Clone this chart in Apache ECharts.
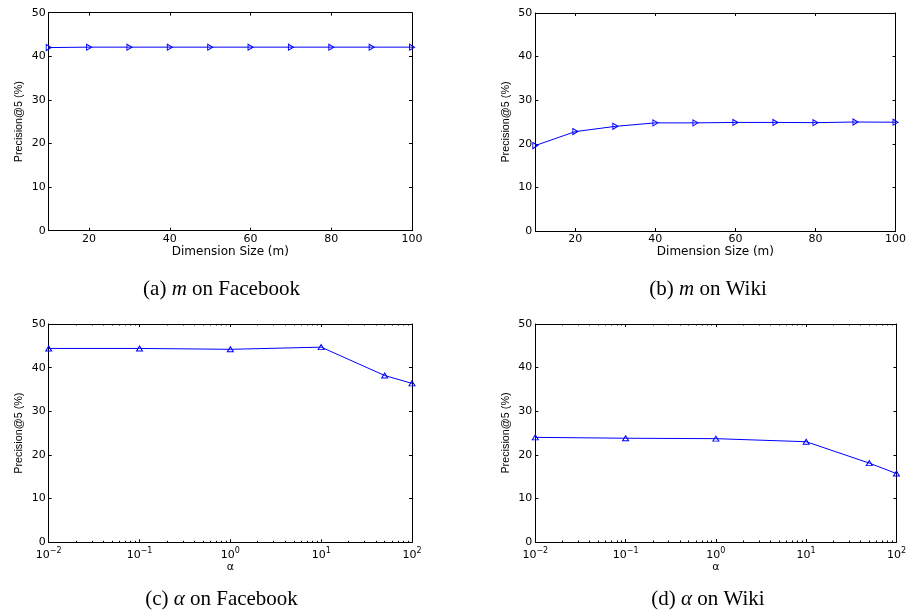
<!DOCTYPE html>
<html>
<head>
<meta charset="utf-8">
<script src="https://cdn.jsdelivr.net/npm/echarts@6/dist/echarts.min.js"></script>
<style>html,body{margin:0;padding:0;background:#fff}#c{width:909px;height:612px}</style>
</head>
<body>
<div id="c"></div>
<script>
// ---- data ----
var dimSizes = [10, 20, 30, 40, 50, 60, 70, 80, 90, 100];
var precFacebookDim = [42.0, 42.1, 42.1, 42.1, 42.1, 42.1, 42.1, 42.1, 42.1, 42.1];
var precWikiDim = [19.6, 22.8, 24.0, 24.8, 24.8, 24.9, 24.9, 24.85, 25.0, 24.95];
var alphas = [0.01, 0.1, 1, 10, 50, 100];
var precFacebookAlpha = [44.4, 44.4, 44.2, 44.7, 38.2, 36.4];
var precWikiAlpha = [24.0, 23.8, 23.7, 23.0, 18.1, 15.7];
var dimTicks = [20, 40, 60, 80, 100];
var alphaTicks = [0.01, 0.1, 1, 10, 100];
var alphaMinorTicks = [0.02,0.03,0.04,0.05,0.06,0.07,0.08,0.09,0.2,0.3,0.4,0.5,0.6,0.7,0.8,0.9,2,3,4,5,6,7,8,9,20,30,40,50,60,70,80,90];
var yTicksMax = 50;
var yLabel = 'Precision@5 (%)';
var dimName = 'Dimension Size (m)';
var alphaName = 'α';
var captions = [
  ['(a) ', 'm', ' on Facebook'],
  ['(b) ', 'm', ' on Wiki'],
  ['(c) ', 'α', ' on Facebook'],
  ['(d) ', 'α', ' on Wiki']
];

// ---- layout ----
var SANS = 'DejaVu Sans, Liberation Sans, sans-serif';
var YSANS = 'Liberation Sans, Arial, Helvetica, sans-serif';
var SERIF = 'Liberation Serif, Times New Roman, serif';
var grids = [
  {left: 48.7, top: 12.7, width: 363.3, height: 218},
  {left: 535.3, top: 13, width: 363.7, height: 218},
  {left: 48.7, top: 324, width: 363.3, height: 218.3},
  {left: 535.3, top: 324, width: 363.7, height: 218}
];
var capPos = [[221.5, 289], [708, 289], [221.5, 599], [708, 599]];
var BLUE = '#0000ff';

var xAxes = [], yAxes = [], series = [];
var lineBlack = {show: true, onZero: false, lineStyle: {color: '#000', width: 1}};

function supFmt(v) {
  var e = Math.round(Math.log10(v));
  return '{b|10}{s|' + (e < 0 ? '\u2212' + (-e) : String(e)) + '}';
}

function addPanel(gi, isLog, xs, ys, name) {
  var baseX = {
    gridIndex: gi,
    type: isLog ? 'log' : 'value',
    min: isLog ? 0.01 : 10,
    max: 100,
    splitLine: {show: false},
    axisLine: lineBlack
  };
  if (isLog) baseX.logBase = 10;
  var ticks = isLog ? alphaTicks : dimTicks;
  var bottom = Object.assign({}, baseX, {
    position: 'bottom',
    name: name, nameLocation: 'middle', nameGap: isLog ? 14 : 12,
    nameTextStyle: {fontFamily: SANS, fontSize: isLog ? 11 : 12, color: '#000'},
    axisTick: {show: true, inside: true, length: 3, customValues: ticks, lineStyle: {color: '#000'}},
    axisLabel: isLog ? {
      customValues: ticks, margin: 4.5, formatter: supFmt,
      rich: {
        b: {fontFamily: SANS, fontSize: 11, color: '#000', verticalAlign: 'middle'},
        s: {fontFamily: SANS, fontSize: 8, color: '#000', verticalAlign: 'middle', padding: [0, 0, 9, 0]}
      }
    } : {customValues: ticks, margin: 3, fontFamily: SANS, fontSize: 11, color: '#000'}
  });
  var top = Object.assign({}, baseX, {
    position: 'top',
    axisTick: {show: true, inside: true, length: 3, customValues: ticks, lineStyle: {color: '#000'}},
    axisLabel: {show: false}
  });
  var xi = xAxes.length;
  xAxes.push(bottom, top);
  if (isLog) {
    xAxes.push(Object.assign({}, baseX, {
      position: 'bottom', axisLine: {show: false, onZero: false},
      axisTick: {show: true, inside: true, length: 1.5, customValues: alphaMinorTicks, lineStyle: {color: '#000'}},
      axisLabel: {show: false}
    }));
    xAxes.push(Object.assign({}, baseX, {
      position: 'top', axisLine: {show: false, onZero: false},
      axisTick: {show: true, inside: true, length: 1.5, customValues: alphaMinorTicks, lineStyle: {color: '#000'}},
      axisLabel: {show: false}
    }));
  }
  var yi = yAxes.length;
  var baseY = {
    gridIndex: gi, type: 'value', min: 0, max: yTicksMax, interval: 10,
    splitLine: {show: false}, axisLine: lineBlack,
    axisTick: {show: true, inside: true, length: 3, lineStyle: {color: '#000'}}
  };
  yAxes.push(Object.assign({}, baseY, {
    position: 'left',
    name: yLabel, nameLocation: 'middle', nameGap: 24, nameRotate: 90,
    nameTextStyle: {fontFamily: YSANS, fontSize: 10.8, color: '#000'},
    axisLabel: {margin: 3, fontFamily: SANS, fontSize: 11, color: '#000'}
  }));
  yAxes.push(Object.assign({}, baseY, {position: 'right', axisLabel: {show: false}}));
  var pts = xs.map(function (x, i) { return [x, ys[i]]; });
  series.push({
    type: 'line', xAxisIndex: xi, yAxisIndex: yi, data: pts, clip: false,
    symbol: isLog ? 'triangle' : 'path://M0,0L10,5L0,10Z',
    symbolSize: isLog ? [6, 5] : [5, 6],
    lineStyle: {color: BLUE, width: 1},
    itemStyle: {color: 'rgba(255,255,255,0)', borderColor: BLUE, borderWidth: 1},
    emphasis: {disabled: true}, animation: false
  });
}

addPanel(0, false, dimSizes, precFacebookDim, dimName);
addPanel(1, false, dimSizes, precWikiDim, dimName);
addPanel(2, true, alphas, precFacebookAlpha, alphaName);
addPanel(3, true, alphas, precWikiAlpha, alphaName);

var graphics = captions.map(function (c, i) {
  return {
    type: 'text', x: capPos[i][0], y: capPos[i][1],
    style: {
      text: '{n|' + c[0] + '}{i|' + c[1] + '}{n|' + c[2] + '}',
      align: 'center', verticalAlign: 'middle',
      rich: {
        n: {fontFamily: SERIF, fontSize: 21, fill: '#000'},
        i: {fontFamily: SERIF, fontSize: 21, fontStyle: 'italic', fill: '#000'}
      }
    }
  };
});

var chart = echarts.init(document.getElementById('c'), null, {renderer: 'canvas'});
chart.setOption({
  animation: false,
  backgroundColor: '#fff',
  grid: grids,
  xAxis: xAxes,
  yAxis: yAxes,
  series: series,
  graphic: graphics
});
</script>
</body>
</html>
